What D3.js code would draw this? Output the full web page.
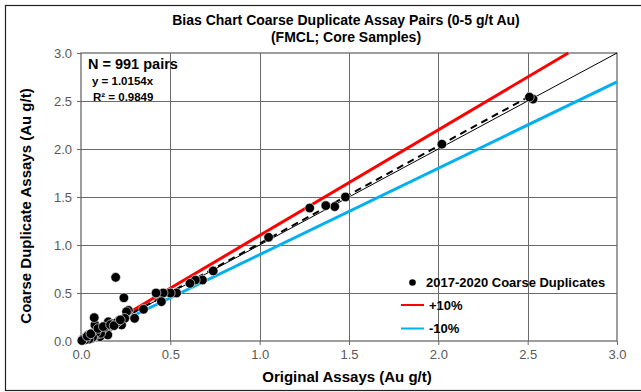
<!DOCTYPE html>
<html><head><meta charset="utf-8">
<script src="https://cdn.jsdelivr.net/npm/d3@7/dist/d3.min.js"></script>
<style>
body{margin:0;background:#fff;}
svg{display:block;font-family:"Liberation Sans",Arial,sans-serif;}
</style></head><body>
<svg id="c" width="641" height="392"></svg>
<script>
// ---- data ----
const titleLines = ["Bias Chart Coarse Duplicate Assay Pairs (0-5 g/t Au)", "(FMCL; Core Samples)"];
const xTitle = "Original Assays (Au g/t)";
const yTitle = "Coarse Duplicate Assays (Au g/t)";
const tickValues = [0, 0.5, 1.0, 1.5, 2.0, 2.5, 3.0];
const original = [2.53, 2.51, 2.02, 1.48, 1.42, 1.37, 1.28, 1.05, 0.74, 0.68, 0.64, 0.61, 0.535, 0.50, 0.46, 0.42, 0.45, 0.35, 0.30, 0.265, 0.255, 0.245, 0.24, 0.194, 0.21, 0.227, 0.171, 0.16, 0.153, 0.143, 0.14, 0.115, 0.106, 0.078, 0.078, 0.074, 0.06, 0.04, 0.013, 0.15, 0.12, 0.09, 0.10, 0.05, 0.03, 0.02, 0.07, 0.18, 0.20, 0.13, 0.11, 0.085, 0.065, 0.045, 0.025, 0.01, 0.005, 0.035, 0.055, 0.095, 0.125, 0.165, 0.185, 0.22];
const duplicate = [2.52, 2.54, 2.05, 1.50, 1.40, 1.41, 1.385, 1.08, 0.73, 0.635, 0.635, 0.60, 0.50, 0.50, 0.50, 0.50, 0.41, 0.33, 0.236, 0.32, 0.305, 0.236, 0.45, 0.663, 0.21, 0.167, 0.167, 0.15, 0.20, 0.132, 0.10, 0.097, 0.045, 0.097, 0.167, 0.243, 0.028, 0.063, 0.01, 0.063, 0.12, 0.07, 0.11, 0.05, 0.04, 0.03, 0.06, 0.18, 0.19, 0.14, 0.08, 0.09, 0.04, 0.02, 0.015, 0.02, 0.005, 0.05, 0.075, 0.13, 0.15, 0.17, 0.16, 0.22];
const slopeTrend = 1.0154;
const trendMaxX = 2.53;
const annotN = "N = 991 pairs";
const annotEq = "y = 1.0154x";
const annotR2 = "R² = 0.9849";
const legendLabels = ["2017-2020 Coarse Duplicates", "+10%", "-10%"];

// ---- layout ----
const svg = d3.select("#c");
const L = 81, R = 617, T = 53, B = 341;
const x = d3.scaleLinear().domain([0, 3]).range([L, R]);
const y = d3.scaleLinear().domain([0, 3]).range([B, T]);

// outer border
svg.append("rect").attr("x", 5.5).attr("y", 5.5).attr("width", 640).attr("height", 385)
  .attr("fill", "none").attr("stroke", "#222").attr("stroke-width", 1.2);

// gridlines
const grid = svg.append("g");
tickValues.slice(1, -1).forEach(v => {
  grid.append("line").attr("x1", Math.round(x(v)) + 0.5).attr("x2", Math.round(x(v)) + 0.5)
    .attr("y1", T).attr("y2", B).attr("stroke", "#6a6a6a").attr("stroke-width", 1);
  grid.append("line").attr("y1", Math.round(y(v)) + 0.5).attr("y2", Math.round(y(v)) + 0.5)
    .attr("x1", L).attr("x2", R).attr("stroke", "#6a6a6a").attr("stroke-width", 1);
});

// axes
const fmt = d3.format(".1f");
const xAxis = svg.append("g").attr("transform", `translate(0,${B})`)
  .call(d3.axisBottom(x).tickValues(tickValues).tickFormat(fmt).tickSizeOuter(0).tickSize(4).tickPadding(5));
const yAxis = svg.append("g").attr("transform", `translate(${L},0)`)
  .call(d3.axisLeft(y).tickValues(tickValues).tickFormat(fmt).tickSizeOuter(0).tickSize(4).tickPadding(5));
[xAxis, yAxis].forEach(a => {
  a.selectAll("path").remove();
  a.selectAll("line").attr("stroke", "#6a6a6a");
  a.selectAll("text").attr("fill", "#595959").style("font-size", "13px")
    .style("font-family", '"Liberation Sans",Arial,sans-serif');
});
// plot frame
svg.append("rect").attr("x", L).attr("y", T).attr("width", R - L).attr("height", B - T)
  .attr("fill", "none").attr("stroke", "#6a6a6a").attr("stroke-width", 1.3);

// reference lines
const lines = svg.append("g");
lines.append("line").attr("x1", x(0)).attr("y1", y(0)).attr("x2", x(3)).attr("y2", y(3))
  .attr("stroke", "#000").attr("stroke-width", 1);
lines.append("line").attr("x1", x(0)).attr("y1", y(0)).attr("x2", x(3 / 1.1)).attr("y2", y(3))
  .attr("stroke", "#ff0000").attr("stroke-width", 3);
lines.append("line").attr("x1", x(0)).attr("y1", y(0)).attr("x2", x(3)).attr("y2", y(3 * 0.9))
  .attr("stroke", "#00b0f0").attr("stroke-width", 3);
lines.append("line").attr("x1", x(0)).attr("y1", y(0)).attr("x2", x(trendMaxX)).attr("y2", y(trendMaxX * slopeTrend))
  .attr("stroke", "#000").attr("stroke-width", 2).attr("stroke-dasharray", "7,5");

// points
const pts = original.map((v, i) => [v, duplicate[i]]);
svg.append("g").selectAll("circle").data(pts).join("circle")
  .attr("cx", d => x(d[0])).attr("cy", d => y(d[1])).attr("r", 4.8)
  .attr("fill", "#000").attr("stroke", "#fff").attr("stroke-width", 0.6);

// annotations
svg.append("text").attr("x", 88).attr("y", 69).text(annotN)
  .style("font-size", "14.5px").style("font-weight", "bold");
svg.append("text").attr("x", 92).attr("y", 85).text(annotEq)
  .style("font-size", "11.5px").style("font-weight", "bold");
svg.append("text").attr("x", 93).attr("y", 101).text(annotR2)
  .style("font-size", "11.5px").style("font-weight", "bold");

// title
titleLines.forEach((t, i) => {
  svg.append("text").attr("x", 346).attr("y", 25 + i * 17).attr("text-anchor", "middle")
    .text(t).style("font-size", "14px").style("font-weight", "bold");
});
svg.append("text").attr("x", 347).attr("y", 382).attr("text-anchor", "middle")
  .text(xTitle).style("font-size", "15px").style("font-weight", "bold");
svg.append("text").attr("transform", `translate(31,206) rotate(-90)`).attr("text-anchor", "middle")
  .text(yTitle).style("font-size", "15px").style("font-weight", "bold");

// legend
const lg = svg.append("g");
lg.append("circle").attr("cx", 412.5).attr("cy", 282.5).attr("r", 3.3).attr("fill", "#000");
lg.append("line").attr("x1", 401).attr("x2", 424).attr("y1", 305).attr("y2", 305).attr("stroke", "#ff0000").attr("stroke-width", 2);
lg.append("line").attr("x1", 401).attr("x2", 424).attr("y1", 328.5).attr("y2", 328.5).attr("stroke", "#00b0f0").attr("stroke-width", 2);
[[426, 287], [429, 309.5], [429, 333]].forEach((p, i) => {
  lg.append("text").attr("x", p[0]).attr("y", p[1]).text(legendLabels[i])
    .style("font-size", "13px").style("font-weight", "bold");
});
</script>
</body></html>
